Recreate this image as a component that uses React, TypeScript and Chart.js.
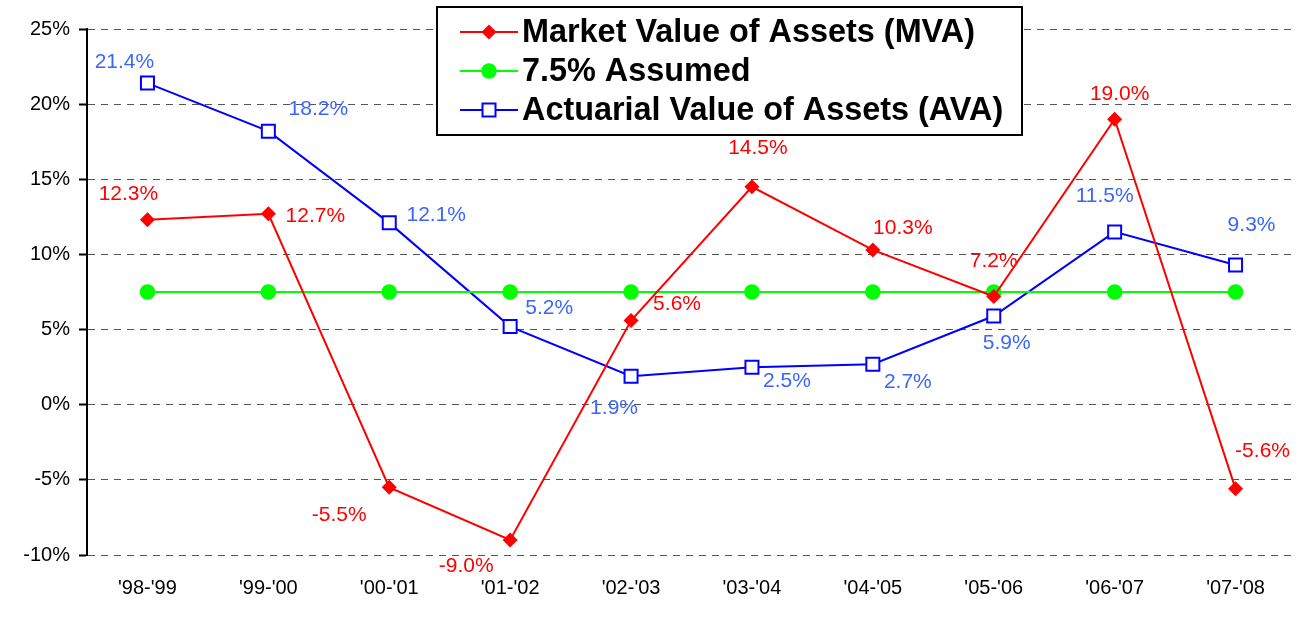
import React, { useEffect, useRef } from "react";
import { Chart, registerables } from "chart.js";

Chart.register(...registerables);

const categories = ["'98-'99", "'99-'00", "'00-'01", "'01-'02", "'02-'03", "'03-'04", "'04-'05", "'05-'06", "'06-'07", "'07-'08"];
const mvaValues = [12.3, 12.7, -5.5, -9.0, 5.6, 14.5, 10.3, 7.2, 19.0, -5.6];
const assumedValues = [7.5, 7.5, 7.5, 7.5, 7.5, 7.5, 7.5, 7.5, 7.5, 7.5];
const avaValues = [21.4, 18.2, 12.1, 5.2, 1.9, 2.5, 2.7, 5.9, 11.5, 9.3];
const yTicks = [-10, -5, 0, 5, 10, 15, 20, 25];

const seriesLabels = ["Market Value of Assets (MVA)", "7.5% Assumed", "Actuarial Value of Assets (AVA)"];

// label placement offsets (dx, dy) relative to each point
const mvaLabelOffsets: [number, number][] = [[-19, -26], [47, 2], [-50, 28], [-44, 26], [46, -16], [6, -39], [30, -22], [0, -35], [5, -25], [27, -38]];
const avaLabelOffsets: [number, number][] = [[-23, -21], [50, -22], [47, -8], [39, -18], [-17, 32], [35, 14], [35, 18], [13, 27], [-10, -36], [16, -40]];

const FONT = "Arial, 'Liberation Sans', sans-serif";
const RED = "#FF0000";
const GREEN = "#00FF00";
const BLUE = "#0000FF";
const LABEL_BLUE = "#3A66FF";

function drawMarker(ctx: CanvasRenderingContext2D, kind: number, x: number, y: number) {
  ctx.save();
  if (kind === 0) {
    ctx.fillStyle = RED;
    ctx.beginPath();
    ctx.moveTo(x, y - 7.5);
    ctx.lineTo(x + 7.5, y);
    ctx.lineTo(x, y + 7.5);
    ctx.lineTo(x - 7.5, y);
    ctx.closePath();
    ctx.fill();
  } else if (kind === 1) {
    ctx.fillStyle = GREEN;
    ctx.beginPath();
    ctx.arc(x, y, 7.8, 0, Math.PI * 2);
    ctx.fill();
  } else {
    ctx.fillStyle = "#FFFFFF";
    ctx.strokeStyle = BLUE;
    ctx.lineWidth = 2;
    ctx.fillRect(x - 6.5, y - 6.5, 13, 13);
    ctx.strokeRect(x - 6.5, y - 6.5, 13, 13);
  }
  ctx.restore();
}

const labelsPlugin = {
  id: "valueLabels",
  afterDatasetsDraw(chart: any) {
    const ctx: CanvasRenderingContext2D = chart.ctx;
    ctx.save();
    ctx.font = `21px ${FONT}`;
    ctx.textAlign = "center";
    ctx.textBaseline = "middle";
    const specs = [
      { ds: 0, values: mvaValues, offs: mvaLabelOffsets, color: RED },
      { ds: 2, values: avaValues, offs: avaLabelOffsets, color: LABEL_BLUE },
    ];
    for (const s of specs) {
      const meta = chart.getDatasetMeta(s.ds);
      ctx.fillStyle = s.color;
      meta.data.forEach((pt: any, i: number) => {
        const [dx, dy] = s.offs[i];
        ctx.fillText(s.values[i].toFixed(1) + "%", pt.x + dx, pt.y + dy);
      });
    }
    ctx.restore();
  },
};

const legendPlugin = {
  id: "boxLegend",
  afterDraw(chart: any) {
    const ctx: CanvasRenderingContext2D = chart.ctx;
    const left = 437, top = 7, right = 1022, bottom = 135;
    ctx.save();
    ctx.fillStyle = "#FFFFFF";
    ctx.fillRect(left, top, right - left, bottom - top);
    ctx.strokeStyle = "#000000";
    ctx.lineWidth = 2;
    ctx.strokeRect(left, top, right - left, bottom - top);
    const colors = [RED, GREEN, BLUE];
    const rows = [32, 71, 110];
    ctx.font = `bold 32.4px ${FONT}`;
    ctx.textBaseline = "middle";
    ctx.textAlign = "left";
    seriesLabels.forEach((label, i) => {
      const y = rows[i];
      ctx.strokeStyle = colors[i];
      ctx.lineWidth = 2;
      ctx.beginPath();
      ctx.moveTo(460, y);
      ctx.lineTo(518, y);
      ctx.stroke();
      drawMarker(ctx, i, 489, y);
      ctx.fillStyle = "#000000";
      ctx.fillText(label, 522, y + 1);
    });
    ctx.restore();
  },
};

export default function App() {
  const ref = useRef<HTMLCanvasElement | null>(null);
  useEffect(() => {
    if (!ref.current) return;
    const chart = new Chart(ref.current, {
      type: "line",
      data: {
        labels: categories,
        datasets: [
          {
            label: seriesLabels[0],
            data: mvaValues,
            borderColor: RED,
            backgroundColor: RED,
            borderWidth: 2,
            pointStyle: "rectRot",
            pointRadius: 7.5,
            pointBorderWidth: 0,
            pointBackgroundColor: RED,
            tension: 0,
          },
          {
            label: seriesLabels[1],
            data: assumedValues,
            borderColor: GREEN,
            backgroundColor: GREEN,
            borderWidth: 2,
            pointStyle: "circle",
            pointRadius: 7.8,
            pointBorderWidth: 0,
            pointBackgroundColor: GREEN,
            tension: 0,
          },
          {
            label: seriesLabels[2],
            data: avaValues,
            borderColor: BLUE,
            backgroundColor: "#FFFFFF",
            borderWidth: 2,
            pointStyle: "rect",
            pointRadius: 9.2,
            pointBorderWidth: 2,
            pointBorderColor: BLUE,
            pointBackgroundColor: "#FFFFFF",
            tension: 0,
          },
        ],
      },
      options: {
        responsive: false,
        animation: false,
        layout: { autoPadding: false, padding: { top: 29, right: 6, bottom: 0, left: 0 } },
        plugins: {
          legend: { display: false },
          tooltip: { enabled: false },
        },
        scales: {
          x: {
            offset: true,
            grid: { display: false, drawTicks: false, offset: true },
            border: { display: false },
            ticks: { color: "#000", font: { family: FONT, size: 20 }, padding: 21, maxRotation: 0 },
            afterFit: (scale: any) => {
              scale.height = 63;
              scale.paddingLeft = 0;
              scale.paddingRight = 0;
            },
          },
          y: {
            min: -10,
            max: 25,
            afterBuildTicks: (scale: any) => {
              scale.ticks = yTicks.map((v) => ({ value: v }));
            },
            ticks: {
              color: "#000",
              font: { family: FONT, size: 20 },
              padding: 9,
              callback: (v: any) => v + "%",
            },
            grid: {
              color: "#555555",
              lineWidth: 1,
              drawTicks: true,
              tickLength: 8,
              tickColor: "#000000",
              tickWidth: 2,
            },
            border: { display: true, color: "#000000", width: 2, dash: [7, 6] },
            afterFit: (scale: any) => {
              scale.width = 87;
            },
          },
        },
      },
      plugins: [labelsPlugin, legendPlugin],
    });
    return () => chart.destroy();
  }, []);
  return (
    <div style={{ position: "absolute", left: 0, top: 0, width: 1302, height: 618, background: "#fff" }}>
      <canvas ref={ref} width={1302} height={618} />
    </div>
  );
}
